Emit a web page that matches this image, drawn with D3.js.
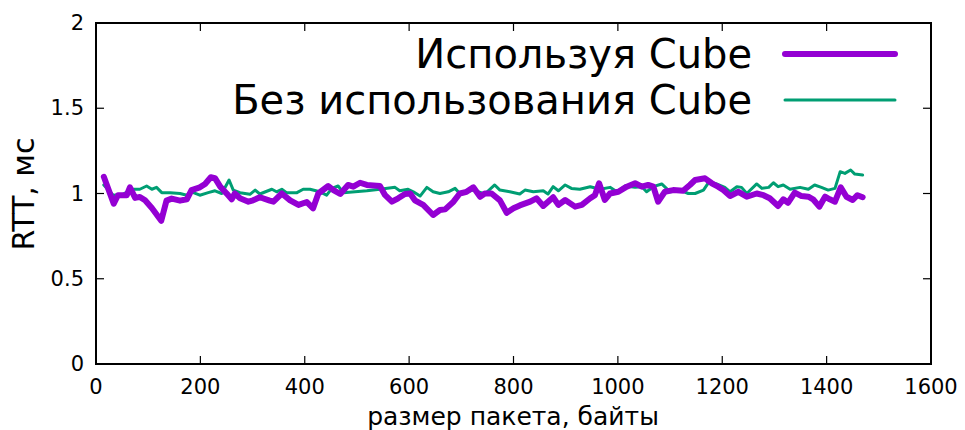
<!DOCTYPE html>
<html><head><meta charset="utf-8">
<script src="https://cdn.jsdelivr.net/npm/d3@7"></script>
<style>body{margin:0;background:#fff}svg{display:block;font-family:"DejaVu Sans",sans-serif}</style>
</head><body><svg id="c" width="965" height="430"></svg>
<script>
const seriesNames = ["Используя Cube", "Без использования Cube"];
const xTicks = [0, 200, 400, 600, 800, 1000, 1200, 1400, 1600];
const yTicks = [0, 0.5, 1, 1.5, 2];
const yTickLabels = ["0", "0.5", "1", "1.5", "2"];
const withCubeX = [15,34,42,59,65,75,84,94,107,125,135,145,161,174,183,199,209,220,228,238,250,260,266,276,292,301,314,333,340,356,372,388,404,416,426,445,455,468,483,493,506,519,544,554,567,579,592,602,611,627,646,659,669,685,697,710,723,736,745,758,774,787,800,812,832,844,857,876,886,899,918,931,947,956,964,975,985,1001,1017,1033,1046,1058,1068,1077,1090,1106,1125,1138,1148,1167,1180,1192,1202,1215,1231,1247,1266,1279,1291,1307,1317,1326,1339,1352,1365,1374,1386,1397,1406,1416,1427,1438,1450,1459,1469];
const withCubeY = [1.098,0.94,0.99,0.99,1.036,0.974,0.98,0.96,0.915,0.84,0.958,0.97,0.958,0.966,1.02,1.036,1.056,1.095,1.09,1.04,1.001,0.966,1.0,0.972,0.952,0.96,0.978,0.958,0.952,1.0,0.96,0.933,0.95,0.913,1.0,1.044,1.02,0.997,1.05,1.04,1.063,1.05,1.044,0.99,0.952,0.972,0.997,1.0,0.96,0.933,0.874,0.903,0.907,0.952,1.0,1.01,1.036,0.981,1.0,1.0,0.96,0.887,0.913,0.93,0.952,0.972,0.927,0.978,0.933,0.962,0.923,0.933,0.972,0.99,1.06,0.962,1.0,1.01,1.04,1.06,1.04,1.05,1.04,0.952,1.01,1.02,1.016,1.05,1.079,1.089,1.06,1.04,1.02,0.985,1.01,0.981,1.0,0.99,0.972,0.927,0.966,0.946,1.005,0.985,0.981,0.966,0.923,0.981,0.966,0.952,1.036,0.981,0.962,0.99,0.978];
const noCubeX = [15,33,52,68,84,97,107,116,126,142,161,174,183,199,215,228,241,255,263,276,295,305,314,337,346,356,365,385,397,410,429,442,452,464,474,519,544,573,582,598,608,621,634,646,659,675,688,697,710,723,745,764,774,793,812,822,838,857,866,876,886,899,911,927,947,966,985,998,1014,1033,1046,1055,1068,1084,1100,1122,1135,1148,1164,1175,1189,1205,1215,1228,1237,1247,1266,1276,1289,1298,1307,1317,1330,1349,1365,1377,1390,1403,1416,1426,1435,1446,1454,1469];
const noCubeY = [1.05,0.99,0.995,1.025,1.025,1.044,1.025,1.036,1.005,1.005,1.0,0.99,1.01,0.99,1.005,1.016,1.0,1.079,1.02,1.005,0.995,1.02,0.997,1.025,1.01,1.025,1.005,1.005,1.025,1.025,1.01,0.99,1.03,1.044,1.005,1.016,1.025,1.036,1.016,1.025,1.01,0.985,1.036,1.01,1.0,1.01,1.03,1.0,1.01,1.02,0.997,1.05,1.02,1.01,0.997,1.02,1.01,1.016,0.997,1.04,1.016,1.05,1.03,1.025,1.04,1.025,1.036,1.01,1.044,1.036,1.04,1.01,1.04,1.056,1.01,1.016,1.0,1.0,1.02,1.07,1.056,1.036,1.01,1.04,1.036,1.0,1.056,1.03,1.036,1.063,1.04,1.05,1.025,1.036,1.025,1.05,1.036,1.02,1.03,1.128,1.118,1.138,1.114,1.108];
const colors = ["#9400d3", "#009e73"];
const widths = [6, 3];

const svg = d3.select("#c");
const L = 96, R = 931, T = 23, B = 364;
const x = d3.scaleLinear().domain([0, 1600]).range([L, R]);
const y = d3.scaleLinear().domain([0, 2]).range([B, T]);

// ticks (inward, mirrored)
const tl = 8;
const g = svg.append("g").attr("stroke", "#000").attr("stroke-width", 1.2);
xTicks.forEach(v => {
  g.append("line").attr("x1", x(v)).attr("x2", x(v)).attr("y1", B).attr("y2", B - tl);
  g.append("line").attr("x1", x(v)).attr("x2", x(v)).attr("y1", T).attr("y2", T + tl);
});
yTicks.forEach(v => {
  g.append("line").attr("y1", y(v)).attr("y2", y(v)).attr("x1", L).attr("x2", L + tl);
  g.append("line").attr("y1", y(v)).attr("y2", y(v)).attr("x1", R).attr("x2", R - tl);
});

// tick labels
svg.append("g").selectAll("text").data(xTicks).join("text")
  .attr("x", d => x(d)).attr("y", 394).attr("text-anchor", "middle")
  .attr("font-size", 21).text(d => d);
svg.append("g").selectAll("text").data(yTicks).join("text")
  .attr("x", 84).attr("y", d => y(d) + 7).attr("text-anchor", "end")
  .attr("font-size", 21).text((d, i) => yTickLabels[i]);

// axis titles
svg.append("text").attr("x", 513).attr("y", 425).attr("text-anchor", "middle")
  .attr("font-size", 25).text("размер пакета, байты");
svg.append("text").attr("transform", `translate(34,194) rotate(-90)`)
  .attr("text-anchor", "middle").attr("font-size", 30).text("RTT, мс");

// lines
const series = [
  withCubeX.map((v, i) => [v, withCubeY[i]]),
  noCubeX.map((v, i) => [v, noCubeY[i]])
];
const line = d3.line().x(d => x(d[0])).y(d => y(d[1]));
[1, 0].forEach(i => {
  svg.append("path").datum(series[i]).attr("d", line)
    .attr("fill", "none").attr("stroke", colors[i]).attr("stroke-width", widths[i])
    .attr("stroke-linejoin", "round").attr("stroke-linecap", "round");
});

// legend
const legY = [54, 100];
seriesNames.forEach((n, i) => {
  svg.append("text").attr("x", 752).attr("y", legY[i] + 14).attr("text-anchor", "end")
    .attr("font-size", 40).text(n);
  svg.append("line").attr("x1", 785).attr("x2", 895).attr("y1", legY[i]).attr("y2", legY[i])
    .attr("stroke", colors[i]).attr("stroke-width", widths[i]).attr("stroke-linecap", "round");
});

// frame
svg.append("rect").attr("x", L).attr("y", T).attr("width", R - L).attr("height", B - T)
  .attr("fill", "none").attr("stroke", "#000").attr("stroke-width", 2);
</script></body></html>
